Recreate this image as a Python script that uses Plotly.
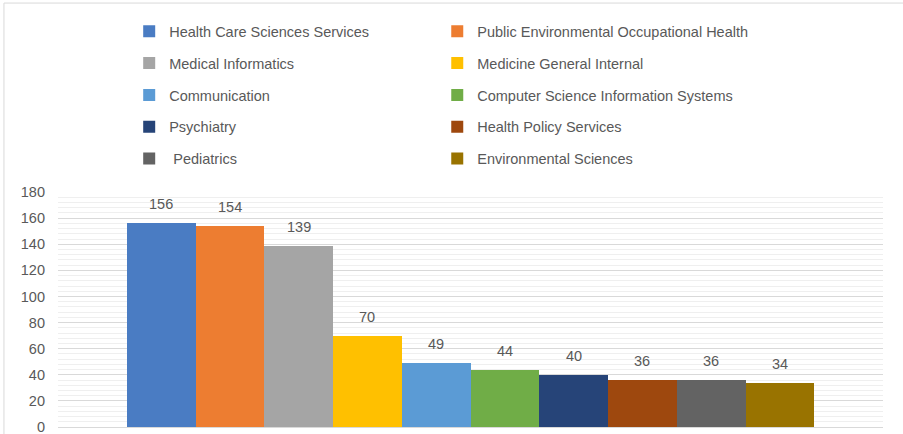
import plotly.graph_objects as go

categories = [
    "Health Care Sciences Services",
    "Public Environmental Occupational Health",
    "Medical Informatics",
    "Medicine General Internal",
    "Communication",
    "Computer Science Information Systems",
    "Psychiatry",
    "Health Policy Services",
    " Pediatrics",
    "Environmental Sciences",
]
values = [156, 154, 139, 70, 49, 44, 40, 36, 36, 34]
colors = ["#4A7CC3", "#ED7D31", "#A5A5A5", "#FFC000", "#5B9BD5",
          "#70AD47", "#264478", "#9E480E", "#636363", "#997300"]
y_ticks = [0, 20, 40, 60, 80, 100, 120, 140, 160, 180]

FONT = "Liberation Sans"
TXT = "#595959"

fig = go.Figure()
for i, (name, val, col) in enumerate(zip(categories, values, colors)):
    fig.add_trace(go.Bar(
        x=[name], y=[val], name=name, marker_color=col,
        marker_line_width=0, legendgroup=f"g{i}",
        legend="legend" if i % 2 == 0 else "legend2",
        hoverinfo="y",
    ))
    fig.add_annotation(x=name, y=val, text=str(val), showarrow=False,
                       yshift=19, font=dict(family=FONT, size=14.5, color=TXT))

legend_common = dict(
    orientation="v", yanchor="top", xanchor="left",
    font=dict(family=FONT, size=14.5, color=TXT),
    tracegroupgap=10, itemwidth=30, bgcolor="rgba(0,0,0,0)",
)

fig.update_layout(
    width=903, height=434,
    margin=dict(l=58, r=20, t=192, b=7, autoexpand=False),
    paper_bgcolor="white", plot_bgcolor="white",
    barmode="overlay", bargap=0,
    showlegend=True,
    legend=dict(x=0.0863, y=1.752, **legend_common),
    legend2=dict(x=0.4597, y=1.752, **legend_common),
    xaxis=dict(range=[-1.5, 10.5], showticklabels=False, showgrid=False,
               zeroline=False, fixedrange=True),
    yaxis=dict(range=[0, 180], tickvals=y_ticks, showgrid=True,
               gridcolor="#D9D9D9", gridwidth=1,
               zeroline=True, zerolinecolor="#D9D9D9", zerolinewidth=1,
               tickfont=dict(family=FONT, size=14.5, color=TXT),
               ticklabelstandoff=12, ticklabeloverflow="allow",
               minor=dict(dtick=4, showgrid=True, gridcolor="#EFEFEF", gridwidth=1)),
)

fig.add_shape(type="rect", xref="paper", yref="paper",
              x0=-0.0655, x1=1.03, y0=-0.1, y1=1.804,
              line=dict(color="#D9D9D9", width=1), layer="below")

fig.write_html("out.html", config={"displayModeBar": False},
               post_script="document.body.style.margin='0';document.body.style.overflow='hidden';")
